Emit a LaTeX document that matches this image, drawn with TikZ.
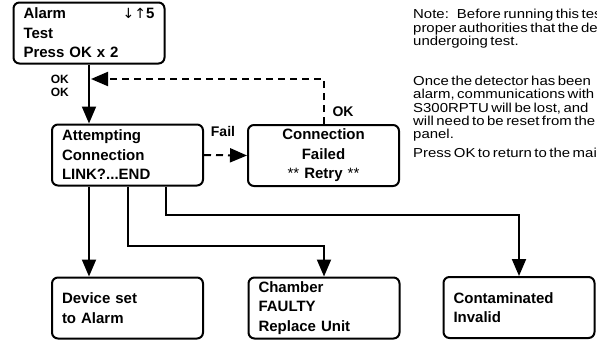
\documentclass[tikz,border=0pt]{standalone}
\usepackage{fontspec}
\usepackage{graphicx}
\setmainfont{Liberation Sans}
\newfontfamily\symfont{DejaVu Sans}
\newfontfamily\notefont[WordSpace=0.6]{Liberation Sans}
\usetikzlibrary{arrows.meta,calc}
\newcommand{\wide}[1]{\scalebox{1.15}[1]{#1}}
\begin{document}
\begin{tikzpicture}[x=1pt,y=-1pt,
  box/.style={draw,line width=2pt,rounded corners=6pt,minimum width=151pt,minimum height=61pt,text width=131pt,inner xsep=10pt,inner ysep=0pt,align=left,font=\bfseries\fontsize{15}{19.5}\selectfont},
  cbox/.style={box,align=center},
  conn/.style={line width=2pt,-{Triangle[length=17pt,width=14pt]}},
  dconn/.style={conn,dash pattern=on 7pt off 5pt},
  lab/.style={font=\bfseries\fontsize{14}{16}\selectfont,inner sep=0pt},
  slab/.style={font=\bfseries\fontsize{12}{12.5}\selectfont,inner sep=0pt,align=center},
  note/.style={font=\notefont\fontsize{13}{13.5}\selectfont,anchor=base west,inner sep=0pt}]
\useasboundingbox (0,0) rectangle (597,340);

\node[box] (alarm) at (89,33) {Alarm\hfill{\symfont\mdseries\fontsize{14}{14}\selectfont ↓↑}5\hspace*{9pt}\\Test\\Press OK x 2};
\node[box] (att) at (127.5,155) {Attempting\\Connection\\LINK?...END};
\node[cbox] (fail) at (323.5,155.5) {Connection\\Failed\\{\mdseries **} Retry {\mdseries **}};
\node[box] (dev) at (127.5,308) {Device set\\to Alarm};
\node[box] (cham) at (324,308) {Chamber\\FAULTY\\Replace Unit};
\node[box] (cont) at (519,307.5) {Contaminated\\Invalid};

\draw[conn] (alarm.south) -- (alarm.south |- att.north);
\coordinate (ret) at (91,79);
\draw[dconn] (fail.north) |- (ret);
\draw[dconn] (att.east) -- (fail.west);

\node[slab,anchor=east] (okok) at (69,86) {OK\\OK};
\node[lab] (faillab) at (223,131) {Fail};
\node[lab] (oklab) at (343,112) {OK};

\draw[conn] (alarm.south |- att.south) -- (alarm.south |- dev.north);
\coordinate (k1) at (cham.north |- 0,246);
\draw[conn] (att.south) |- (k1) -- (cham.north);
\coordinate (s3) at ($(att.south)!0.5!(att.south east)$);
\coordinate (k2) at (cont.north |- 0,215);
\draw[conn] (s3) |- (k2) -- (cont.north);

\node[note] (n1) at (413,18) {\wide{Note:\hspace{7pt}Before running this test}};
\node[note] (n2) at (413,32) {\wide{proper authorities that the device}};
\node[note] (n3) at (413,45) {\wide{undergoing test.}};
\node[note] (n4) at (413,85) {\wide{Once the detector has been}};
\node[note] (n5) at (413,98) {\wide{alarm, communications with}};
\node[note] (n6) at (413,112) {\wide{S300RPTU will be lost, and}};
\node[note] (n7) at (413,125) {\wide{will need to be reset from the}};
\node[note] (n8) at (413,138) {\wide{panel.}};
\node[note] (n9) at (413,157) {\wide{Press OK to return to the main}};
\end{tikzpicture}
\end{document}
